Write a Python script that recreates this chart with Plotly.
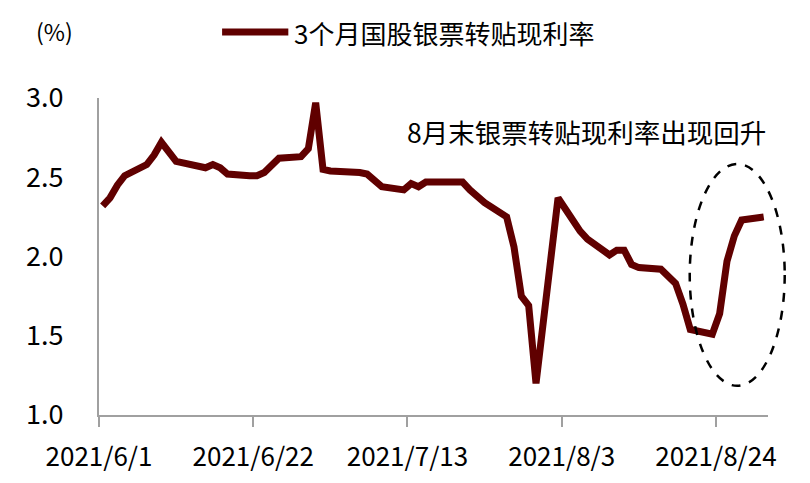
import plotly.graph_objects as go
import pandas as pd

# ---- data ----
dates = [
    "2021-06-01", "2021-06-02", "2021-06-03", "2021-06-04", "2021-06-07", "2021-06-08",
    "2021-06-09", "2021-06-10", "2021-06-11", "2021-06-15", "2021-06-16", "2021-06-17",
    "2021-06-18", "2021-06-21", "2021-06-22", "2021-06-23", "2021-06-24", "2021-06-25",
    "2021-06-28", "2021-06-29", "2021-06-30", "2021-07-01", "2021-07-02", "2021-07-05",
    "2021-07-06", "2021-07-07", "2021-07-08", "2021-07-09", "2021-07-12", "2021-07-13",
    "2021-07-14", "2021-07-15", "2021-07-16", "2021-07-19", "2021-07-20", "2021-07-21",
    "2021-07-22", "2021-07-23", "2021-07-26", "2021-07-27", "2021-07-28", "2021-07-29",
    "2021-07-30", "2021-08-02", "2021-08-03", "2021-08-04", "2021-08-05", "2021-08-06",
    "2021-08-09", "2021-08-10", "2021-08-11", "2021-08-12", "2021-08-13", "2021-08-16",
    "2021-08-17", "2021-08-18", "2021-08-19", "2021-08-20", "2021-08-23", "2021-08-24",
    "2021-08-25", "2021-08-26", "2021-08-27", "2021-08-30",
]
rates = [
    2.32, 2.37, 2.45, 2.51, 2.58, 2.64,
    2.72, 2.66, 2.60, 2.56, 2.58, 2.56,
    2.52, 2.51, 2.51, 2.53, 2.58, 2.62,
    2.63, 2.68, 2.97, 2.55, 2.54, 2.54,
    2.53, 2.52, 2.48, 2.44, 2.42, 2.46,
    2.44, 2.47, 2.47, 2.47, 2.47, 2.42,
    2.38, 2.34, 2.25, 2.06, 1.75, 1.69,
    1.20, 2.37, 2.30, 2.22, 2.16, 2.11,
    2.01, 2.04, 2.04, 1.95, 1.93, 1.92,
    1.88, 1.83, 1.70, 1.54, 1.51, 1.64,
    1.97, 2.13, 2.23, 2.25,
]
series_name = "3个月国股银票转贴现利率"
tick_dates = ["2021-06-01", "2021-06-22", "2021-07-13", "2021-08-03", "2021-08-24"]
tick_labels = ["2021/6/1", "2021/6/22", "2021/7/13", "2021/8/3", "2021/8/24"]
y_ticks = [1.0, 1.5, 2.0, 2.5, 3.0]
note_text = "8月末银票转贴现利率出现回升"
unit_text = "(%)"

FONT = "Noto Sans CJK SC"
LINE_COLOR = "#600000"
AXIS_COLOR = "#a0a0a0"

# each day occupies a slot on the date axis; points sit in the middle of their day
x_pos = pd.to_datetime(dates) + pd.Timedelta(hours=12)

fig = go.Figure()
fig.add_trace(go.Scatter(
    x=x_pos, y=rates, mode="lines", name=series_name,
    line=dict(color=LINE_COLOR, width=7, shape="linear"),
    showlegend=False,
))

# custom legend (long line sample + text)
fig.add_shape(type="line", xref="paper", yref="paper",
              x0=0.184, x1=0.283, y0=1.208, y1=1.208,
              line=dict(color=LINE_COLOR, width=7))
fig.add_annotation(text=series_name, xref="paper", yref="paper",
                   x=0.288, y=1.208, xanchor="left", yanchor="middle",
                   showarrow=False, font=dict(size=26, color="#000000", family=FONT))
fig.add_annotation(text=unit_text, xref="paper", yref="paper",
                   x=-0.097, y=1.212, xanchor="left", yanchor="middle",
                   showarrow=False, font=dict(size=23, color="#000000", family=FONT))

# annotation text
fig.add_annotation(text=note_text, xref="paper", yref="paper",
                   x=0.729, y=0.893, xanchor="center", yanchor="middle",
                   showarrow=False, font=dict(size=26.5, color="#000000", family=FONT))

# dashed ellipse (paper-referenced so it may extend beyond the plot area)
fig.add_shape(type="circle", xref="paper", yref="paper",
              x0=0.883, x1=1.025, y0=0.092, y1=0.792,
              line=dict(color="#000000", width=2.5, dash="dash"))

fig.update_layout(
    width=810, height=483,
    margin=dict(l=91, r=50, t=90, b=76),
    paper_bgcolor="white", plot_bgcolor="white",
    font=dict(family=FONT, size=26, color="#000000"),
)
fig.update_xaxes(
    type="date", range=["2021-06-01", "2021-08-31 02:00"],
    tickvals=tick_dates, ticktext=tick_labels,
    showline=True, linecolor=AXIS_COLOR, linewidth=2,
    ticks="outside", ticklen=10, tickwidth=2, tickcolor=AXIS_COLOR,
    showgrid=False, zeroline=False, automargin=False,
    tickfont=dict(size=26, family=FONT, color="#000000"),
    ticklabelstandoff=8,
)
fig.update_yaxes(
    range=[1.0, 3.0], tickvals=y_ticks,
    ticktext=[f"{v:.1f}" for v in y_ticks],
    showline=True, linecolor=AXIS_COLOR, linewidth=2,
    ticks="", showgrid=False, zeroline=False, automargin=False,
    tickfont=dict(size=27, family=FONT, color="#000000"),
    ticklabelstandoff=28,
)

fig.write_html("out.html")
